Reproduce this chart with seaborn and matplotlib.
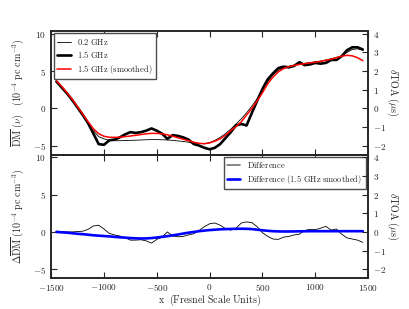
import matplotlib
matplotlib.use("Agg")
import matplotlib.pyplot as plt
from matplotlib.ticker import FuncFormatter
import seaborn as sns

# Fresnel-scale positions of the sampled curves
x = [-1450, -1400, -1350, -1300, -1250, -1200, -1150, -1100, -1050, -1000,
     -950, -900, -850, -800, -750, -700, -650, -600, -550, -500,
     -450, -400, -350, -300, -250, -200, -150, -100, -50, 0,
     50, 100, 150, 200, 250, 300, 350, 400, 450, 500,
     550, 600, 650, 700, 750, 800, 850, 900, 950, 1000,
     1050, 1100, 1150, 1200, 1250, 1300, 1350, 1400, 1450]

# DM at 0.2 GHz (thin black)
dm_02 = [3.6, 2.8, 2.0, 1.1, 0.1, -0.9, -2.0, -3.0, -3.8, -4.1,
         -4.3, -4.35, -4.35, -4.32, -4.3, -4.28, -4.25, -4.22, -4.2, -4.2,
         -4.22, -4.25, -4.3, -4.38, -4.45, -4.55, -4.65, -4.72, -4.75, -4.6,
         -4.3, -3.9, -3.4, -2.8, -2.1, -1.4, -0.6, 0.3, 1.3, 2.5,
         3.6, 4.5, 5.1, 5.45, 5.65, 5.8, 5.95, 6.05, 6.15, 6.25,
         6.35, 6.5, 6.65, 6.85, 7.05, 7.5, 7.9, 8.0, 7.8]

# DM at 1.5 GHz (thick black)
dm_15 = [3.6, 2.8, 2.0, 1.1, 0.1, -0.9, -2.0, -3.4, -4.8, -4.9,
         -4.3, -4.2, -3.9, -3.5, -3.2, -3.3, -3.2, -3.0, -2.7, -3.0,
         -3.4, -4.1, -3.6, -3.7, -3.9, -4.2, -4.8, -5.0, -5.3, -5.5,
         -5.3, -4.8, -4.0, -3.2, -2.3, -2.1, -2.3, -0.6, 1.0, 2.6,
         3.9, 4.7, 5.4, 5.6, 5.5, 5.7, 6.2, 5.8, 5.9, 6.1,
         6.0, 6.1, 6.5, 6.5, 7.0, 7.8, 8.2, 8.2, 7.9]

# DM at 1.5 GHz, smoothed (red)
dm_15s = [3.7, 2.95, 2.1, 1.2, 0.2, -0.8, -1.8, -2.75, -3.4, -3.75,
          -3.88, -3.9, -3.88, -3.8, -3.72, -3.62, -3.52, -3.42, -3.36, -3.37,
          -3.42, -3.55, -3.75, -3.95, -4.15, -4.35, -4.55, -4.7, -4.75, -4.65,
          -4.4, -4.1, -3.6, -3.0, -2.45, -1.8, -0.9, 0.0, 1.0, 2.1,
          3.3, 4.2, 4.9, 5.35, 5.6, 5.75, 5.9, 6.0, 6.1, 6.2,
          6.3, 6.45, 6.6, 6.8, 7.0, 7.12, 7.05, 6.8, 6.4]

# difference (thin black, lower panel)
diff = [0.1, 0.05, 0.0, 0.0, 0.05, 0.1, 0.35, 0.8, 0.9, 0.4,
        -0.2, -0.4, -0.55, -0.75, -1.1, -1.1, -1.05, -1.2, -1.5, -1.0,
        -0.7, 0.0, -0.55, -0.65, -0.6, -0.4, -0.25, 0.2, 0.7, 1.1,
        1.2, 0.9, 0.45, 0.25, 0.5, 1.2, 1.35, 1.25, 0.7, -0.1,
        -0.6, -0.95, -1.0, -0.7, -0.6, -0.4, -0.3, 0.2, 0.35, 0.3,
        0.5, 0.75, 0.25, 0.4, -0.3, -0.8, -0.95, -1.1, -1.4]

# difference, 1.5 GHz smoothed (blue)
diff_s = [0.0, -0.05, -0.1, -0.17, -0.25, -0.3, -0.37, -0.45, -0.5, -0.55,
          -0.6, -0.66, -0.72, -0.77, -0.82, -0.86, -0.88, -0.87, -0.82, -0.75,
          -0.66, -0.57, -0.45, -0.35, -0.22, -0.1, 0.0, 0.1, 0.18, 0.25,
          0.3, 0.35, 0.38, 0.4, 0.42, 0.43, 0.42, 0.38, 0.3, 0.22,
          0.15, 0.1, 0.07, 0.06, 0.06, 0.07, 0.08, 0.09, 0.1, 0.1,
          0.1, 0.1, 0.1, 0.1, 0.1, 0.1, 0.1, 0.1, 0.1]

sns.set_style("white")
plt.rcParams["mathtext.fontset"] = "cm"
plt.rcParams["font.family"] = ["DejaVu Serif"]
plt.rcParams["axes.linewidth"] = 1.2
plt.rcParams["legend.fancybox"] = False

fmt = FuncFormatter(lambda v, p: f"${v:g}$")
dm_lim = (-6.2, 10.4)
scale = 2.5  # 1 us of TOA <-> 2.5 DM units

fig, (ax1, ax2) = plt.subplots(2, 1, sharex=True, figsize=(4.09, 3.09), dpi=100)
fig.subplots_adjust(left=0.125, right=0.9, top=0.9, bottom=0.1, hspace=0)

sns.lineplot(x=x, y=dm_02, ax=ax1, color="black", lw=0.6, label=r"$\mathrm{0.2\ GHz}$")
sns.lineplot(x=x, y=dm_15, ax=ax1, color="black", lw=1.9, label=r"$\mathrm{1.5\ GHz}$")
sns.lineplot(x=x, y=dm_15s, ax=ax1, color="red", lw=1.1, label=r"$\mathrm{1.5\ GHz\ (smoothed)}$")

sns.lineplot(x=x, y=diff, ax=ax2, color="black", lw=0.6, label=r"$\mathrm{Difference}$")
sns.lineplot(x=x, y=diff_s, ax=ax2, color="blue", lw=1.9, label=r"$\mathrm{Difference\ (1.5\ GHz\ smoothed)}$")

ax1.legend(loc="upper left", fontsize=6.1, edgecolor="0.3", framealpha=1,
           handlelength=1.6, borderpad=0.4, labelspacing=0.3, borderaxespad=0.3)
leg2 = ax2.legend(loc="upper right", fontsize=6.1, edgecolor="0.3", framealpha=1,
                  handlelength=1.6, borderpad=0.4, labelspacing=0.3, borderaxespad=0.3)
leg2.get_lines()[0].set_color("0.45")
leg2.get_lines()[0].set_linewidth(1.2)

ax1.set_ylabel(r"$\overline{\mathrm{DM}}\ (\nu)\quad (10^{-4}\ \mathrm{pc\ cm^{-3}})$", fontsize=7.2, labelpad=5)
ax2.set_ylabel(r"$\Delta\overline{\mathrm{DM}}\ (10^{-4}\ \mathrm{pc\ cm^{-3}})$", fontsize=7.2, labelpad=5)
ax2.set_xlabel(r"$\mathrm{x\ \ (Fresnel\ Scale\ Units)}$", fontsize=7.2, labelpad=0)

for ax in (ax1, ax2):
    ax.set_xlim(-1500, 1500)
    ax.set_xticks([-1500, -1000, -500, 0, 500, 1000, 1500])
    ax.set_ylim(*dm_lim)
    ax.set_yticks([-5, 0, 5, 10])
    ax.xaxis.set_major_formatter(fmt)
    ax.yaxis.set_major_formatter(fmt)
    ax.tick_params(direction="in", length=4, width=0.8, labelsize=6.6,
                   top=True, bottom=True, left=True, right=False)
    ax.tick_params(axis="x", pad=2.5)
    tw = ax.twinx()
    tw.set_ylim(dm_lim[0] / scale, dm_lim[1] / scale)
    tw.set_yticks([-2, -1, 0, 1, 2, 3, 4])
    tw.yaxis.set_major_formatter(fmt)
    tw.tick_params(direction="in", length=4, width=0.8, labelsize=6.6)
    tw.set_ylabel(r"$\delta\mathrm{TOA}\ (\mu\mathrm{s})$", fontsize=7.2, rotation=270, labelpad=10)

fig.savefig("out.png", dpi=100)
